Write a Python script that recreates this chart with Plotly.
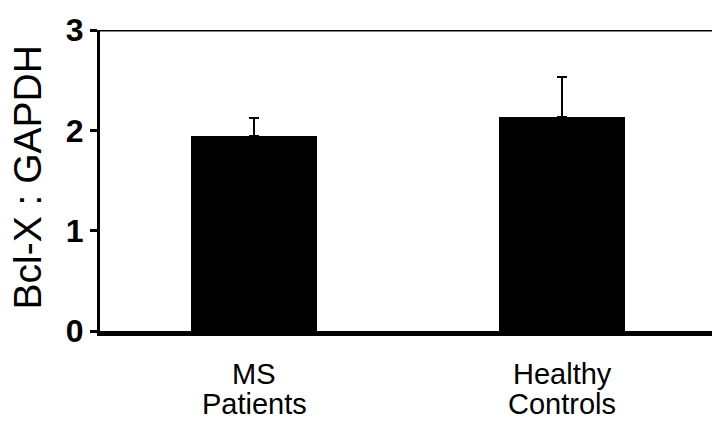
import plotly.graph_objects as go

# Bcl-X expression normalised to GAPDH, mean with upper SEM
categories = ["MS\nPatients", "Healthy\nControls"]
ratio_mean = [1.94, 2.13]
ratio_sem = [0.18, 0.40]
y_ticks = [0, 1, 2, 3]
y_title = "Bcl-X : GAPDH"

W, H = 712, 426
M_L, M_R, M_T, M_B = 100, 0, 30, 95
plot_h = H - M_T - M_B

x_pos = list(range(len(categories)))

fig = go.Figure()
fig.add_trace(go.Bar(
    x=x_pos,
    y=ratio_mean,
    width=0.41,
    marker=dict(color="black", line=dict(width=0)),
    error_y=dict(
        type="data",
        symmetric=False,
        array=ratio_sem,
        arrayminus=[0] * len(ratio_sem),
        color="black",
        thickness=2,
        width=5,
    ),
    showlegend=False,
))

# two-line category labels under each bar
for xi, label in zip(x_pos, categories):
    for li, line in enumerate(label.split("\n")):
        fig.add_annotation(
            x=xi, xref="x",
            y=-(374 + 30 * li - (H - M_B)) / plot_h, yref="paper",
            text=line, showarrow=False,
            xanchor="center", yanchor="middle",
            font=dict(family="Arial", size=29, color="black"),
        )

# rotated axis title
fig.add_annotation(
    x=(27 - M_L) / (W - M_L - M_R), xref="paper",
    y=0.51, yref="paper",
    text=y_title, textangle=-90, showarrow=False,
    xanchor="center", yanchor="middle",
    font=dict(family="Arial", size=39, color="black"),
)

# top frame line at the axis maximum
fig.add_shape(
    type="line", xref="x domain", yref="y",
    x0=0, x1=1, y0=3, y1=3,
    line=dict(color="black", width=3),
)

fig.update_layout(
    width=W, height=H,
    margin=dict(l=M_L, r=M_R, t=M_T, b=M_B, pad=0),
    paper_bgcolor="white",
    plot_bgcolor="white",
    bargap=0,
    font=dict(family="Arial", color="black"),
)
fig.update_xaxes(
    range=[-0.5, 1.487],
    showticklabels=False,
    ticks="",
    showgrid=False,
    zeroline=False,
    showline=True, linecolor="black", linewidth=5,
)
fig.update_yaxes(
    range=[0, 3],
    tickmode="array",
    tickvals=y_ticks,
    ticktext=["<b>%d</b>" % v for v in y_ticks],
    ticks="outside", ticklen=7, tickwidth=3, tickcolor="black",
    tickfont=dict(family="Arial", size=32, color="black"),
    ticklabelstandoff=0,
    showgrid=False,
    zeroline=False,
    showline=True, linecolor="black", linewidth=3,
)

fig.write_html("out.html")
